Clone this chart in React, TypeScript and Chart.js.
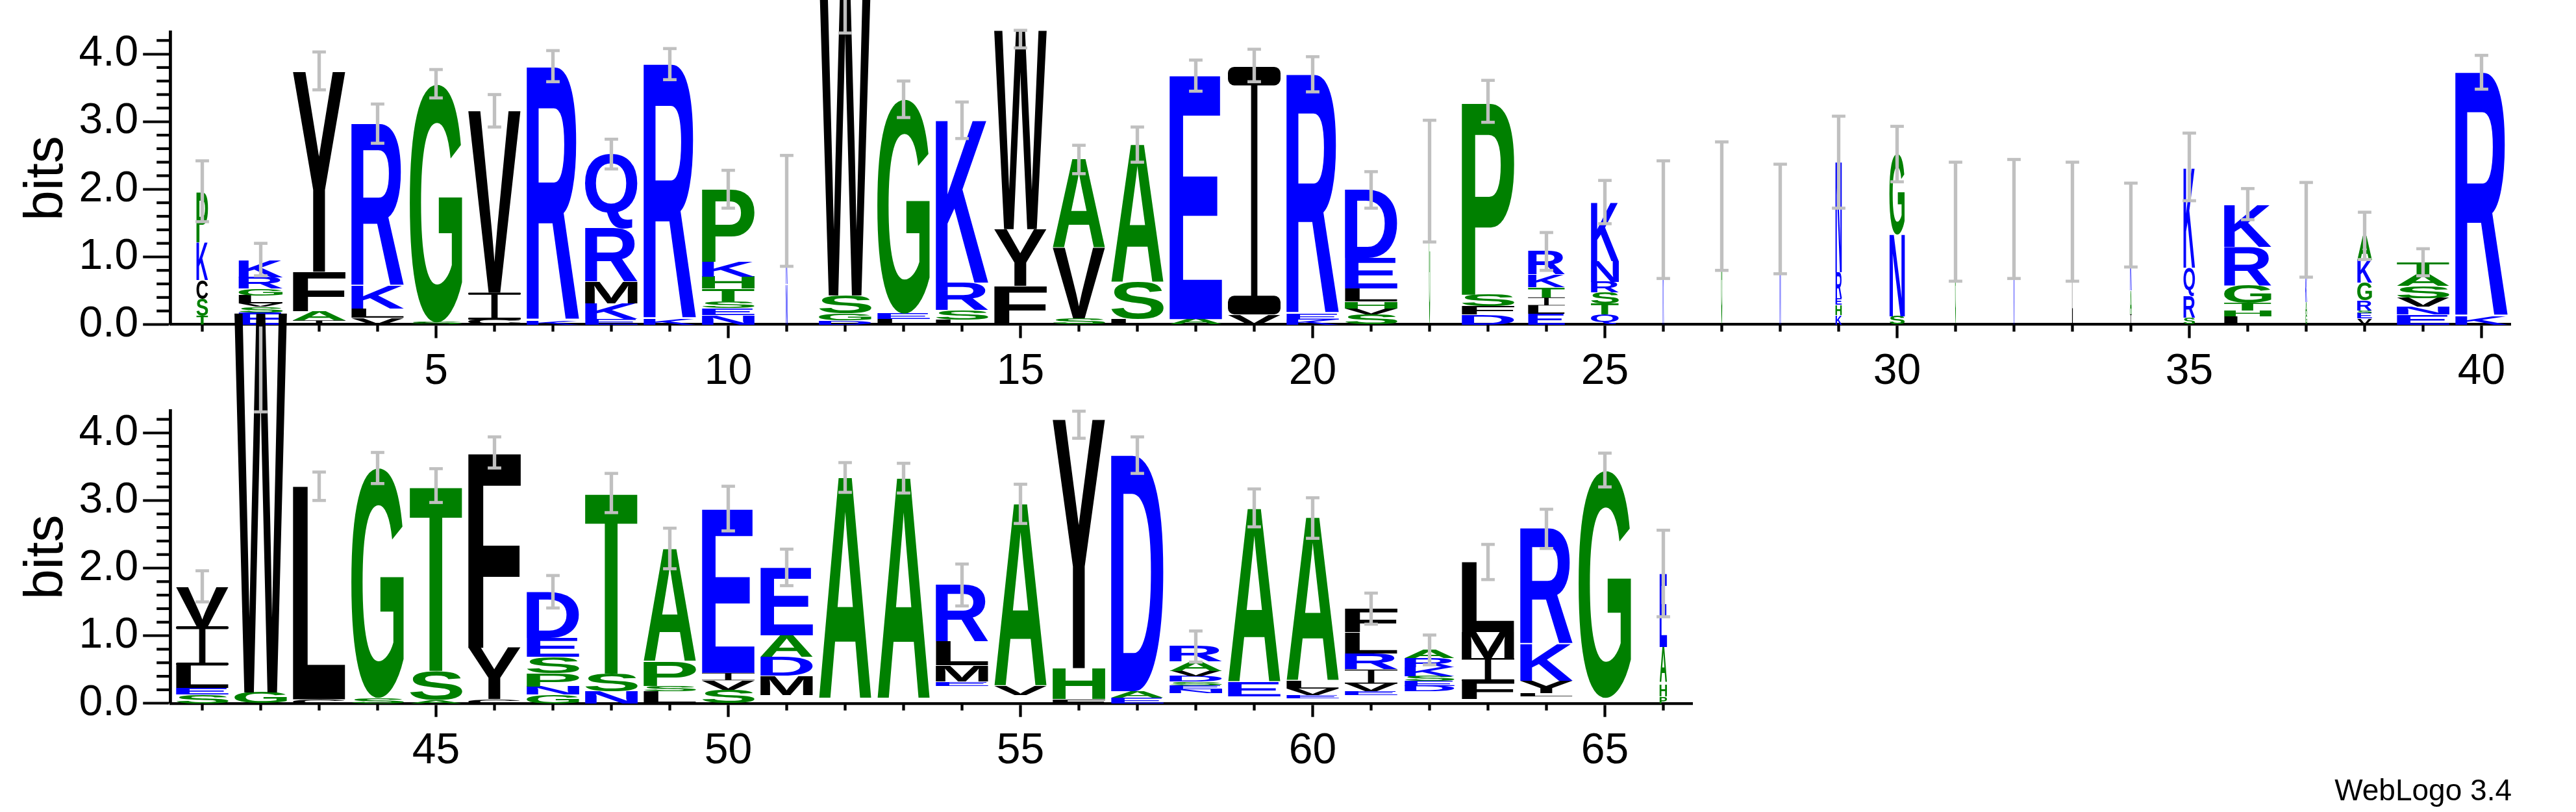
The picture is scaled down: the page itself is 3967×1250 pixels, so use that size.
import React, { useEffect, useRef } from "react";
import { Chart, registerables } from "chart.js";

Chart.register(...registerables);

type Letter = [string, number];

// ---------------- DATA ----------------
const axisTitle = "bits";
const creditText = "WebLogo 3.4";
const yTickValues = [0, 1, 2, 3, 4];
const yMinorStep = 0.2;
const xLabelEvery = 5;
const maxBits = 4.3219;

const topPositions = [1, 2, 3, 4, 5, 6, 7, 8, 9, 10, 11, 12, 13, 14, 15, 16, 17, 18, 19, 20, 21, 22, 23, 24, 25, 26, 27, 28, 29, 30, 31, 32, 33, 34, 35, 36, 37, 38, 39, 40];
// fraction of the full stack width (columns with many gaps are narrow)
const topWidths = [0.22, 0.84, 1, 1, 1, 1, 1, 1, 1, 1, 0.03, 1, 1, 1, 1, 1, 1, 1, 1, 1, 1, 0.02, 1, 0.7, 0.53, 0.02, 0.02, 0.02, 0.12, 0.29, 0.015, 0.015, 0.015, 0.03, 0.22, 0.9, 0.03, 0.28, 1, 1];
// letters from bottom to top with their heights in bits
const topStacks: Letter[][] = [
  [["T", 0.13], ["S", 0.25], ["C", 0.28], ["K", 0.56], ["P", 0.74]],
  [["E", 0.18], ["S", 0.08], ["V", 0.05], ["L", 0.12], ["G", 0.1], ["R", 0.17], ["K", 0.25]],
  [["I", 0.06], ["A", 0.14], ["F", 0.58], ["Y", 2.96]],
  [["V", 0.1], ["L", 0.14], ["K", 0.33], ["R", 2.4]],
  [["S", 0.03], ["G", 3.52]],
  [["C", 0.07], ["I", 0.4], ["V", 2.69]],
  [["K", 0.06], ["R", 3.75]],
  [["E", 0.08], ["K", 0.23], ["M", 0.32], ["R", 0.79], ["Q", 1.1]],
  [["K", 0.08], ["R", 3.77]],
  [["N", 0.14], ["E", 0.1], ["S", 0.1], ["T", 0.19], ["H", 0.18], ["K", 0.22], ["P", 1.08]],
  [["N", 0.6], ["K", 1.07]],
  [["D", 0.06], ["G", 0.1], ["S", 0.27], ["W", 4.9]],
  [["L", 0.08], ["E", 0.08], ["G", 3.17]],
  [["L", 0.07], ["S", 0.14], ["R", 0.41], ["K", 2.41]],
  [["F", 0.57], ["Y", 0.84], ["W", 2.94]],
  [["S", 0.09], ["V", 1.04], ["A", 1.31]],
  [["L", 0.08], ["S", 0.54], ["A", 2.04]],
  [["A", 0.08], ["E", 3.6]],
  [["V", 0.15], ["I", 3.66]],
  [["K", 0.07], ["E", 0.09], ["R", 3.54]],
  [["S", 0.15], ["V", 0.09], ["H", 0.1], ["L", 0.19], ["E", 0.45], ["D", 1.01]],
  [["G", 2.06]],
  [["D", 0.15], ["F", 0.12], ["S", 0.17], ["P", 2.85]],
  [["E", 0.16], ["L", 0.12], ["I", 0.12], ["T", 0.15], ["K", 0.19], ["R", 0.34]],
  [["Q", 0.15], ["T", 0.16], ["S", 0.16], ["R", 0.16], ["N", 0.31], ["K", 0.87]],
  [["K", 1.52]],
  [["G", 1.73]],
  [["N", 1.53]],
  [["K", 0.14], ["H", 0.15], ["E", 0.1], ["R", 0.38], ["N", 1.63]],
  [["S", 0.12], ["N", 1.21], ["G", 1.19]],
  [["G", 1.51]],
  [["N", 1.56]],
  [["L", 1.51]],
  [["I", 0.15], ["A", 0.35], ["K", 0.97]],
  [["S", 0.1], ["R", 0.32], ["Q", 0.42], ["K", 1.48]],
  [["L", 0.12], ["H", 0.09], ["T", 0.11], ["G", 0.26], ["R", 0.57], ["K", 0.62]],
  [["G", 0.15], ["A", 0.18], ["K", 0.37], ["I", 0.22], ["R", 0.48]],
  [["V", 0.09], ["E", 0.08], ["S", 0.04], ["R", 0.15], ["G", 0.26], ["K", 0.33], ["A", 0.36]],
  [["E", 0.15], ["N", 0.11], ["V", 0.13], ["S", 0.18], ["A", 0.17], ["T", 0.17]],
  [["K", 0.12], ["R", 3.61]],
];
const topErrCenter = [1.97, 0.96, 3.75, 2.97, 3.56, 3.16, 3.82, 2.52, 3.85, 2.0, 1.68, 4.66, 3.33, 3.02, 4.22, 2.44, 2.66, 3.68, 3.83, 3.7, 1.99, 2.12, 3.3, 1.08, 1.81, 1.55, 1.75, 1.56, 2.4, 2.52, 1.52, 1.56, 1.52, 1.47, 2.33, 1.78, 1.4, 1.31, 0.92, 3.73];
const topErrHalf = [0.45, 0.24, 0.28, 0.29, 0.21, 0.24, 0.23, 0.22, 0.23, 0.28, 0.82, 0.35, 0.27, 0.27, 0.13, 0.21, 0.26, 0.23, 0.24, 0.26, 0.27, 0.9, 0.31, 0.28, 0.32, 0.87, 0.95, 0.81, 0.68, 0.41, 0.88, 0.88, 0.88, 0.62, 0.5, 0.23, 0.7, 0.35, 0.2, 0.25];

const bottomPositions = [41, 42, 43, 44, 45, 46, 47, 48, 49, 50, 51, 52, 53, 54, 55, 56, 57, 58, 59, 60, 61, 62, 63, 64, 65, 66];
const bottomWidths = [1, 1, 1, 1, 1, 1, 1, 1, 1, 1, 1, 1, 1, 1, 1, 1, 1, 1, 1, 1, 1, 0.95, 1, 1, 1, 0.14];
const bottomStacks: Letter[][] = [
  [["S", 0.13], ["E", 0.1], ["L", 0.33], ["I", 0.58], ["V", 0.58]],
  [["G", 0.16], ["W", 5.62]],
  [["C", 0.06], ["L", 3.15]],
  [["S", 0.08], ["G", 3.4]],
  [["A", 0.05], ["S", 0.43], ["T", 2.73]],
  [["C", 0.06], ["Y", 0.76], ["F", 2.89]],
  [["G", 0.13], ["N", 0.12], ["P", 0.2], ["S", 0.24], ["E", 0.28], ["D", 0.68]],
  [["N", 0.18], ["S", 0.26], ["T", 2.67]],
  [["L", 0.18], ["S", 0.08], ["P", 0.36], ["A", 1.66]],
  [["S", 0.2], ["V", 0.14], ["I", 0.11], ["E", 2.42]],
  [[" ", 0.12], ["M", 0.29], ["D", 0.28], ["A", 0.32], ["E", 0.99]],
  [[" ", 0.06], ["A", 3.28]],
  [[" ", 0.06], ["A", 3.27]],
  [[" ", 0.26], ["E", 0.06], ["M", 0.24], ["L", 0.35], ["R", 0.84]],
  [[" ", 0.12], ["V", 0.13], ["A", 2.7]],
  [["F", 0.06], ["H", 0.46], ["Y", 3.68]],
  [["E", 0.08], ["A", 0.1], ["D", 3.49]],
  [[" ", 0.15], ["N", 0.06], ["E", 0.06], ["S", 0.05], ["D", 0.08], ["V", 0.08], ["A", 0.14], ["R", 0.23]],
  [[" ", 0.1], ["E", 0.21], ["A", 2.57]],
  [[" ", 0.07], ["E", 0.05], ["V", 0.1], ["L", 0.11], ["A", 2.42]],
  [[" ", 0.12], ["E", 0.06], ["V", 0.11], ["I", 0.21], ["R", 0.24], ["L", 0.31], ["F", 0.35]],
  [[" ", 0.18], ["D", 0.08], ["E", 0.07], ["S", 0.07], ["K", 0.13], ["R", 0.14], ["A", 0.12]],
  [[" ", 0.06], ["F", 0.27], ["I", 0.34], ["M", 0.38], ["L", 1.03]],
  [[" ", 0.1], ["L", 0.05], ["Y", 0.18], ["K", 0.55], ["R", 1.71]],
  [[" ", 0.08], ["G", 3.36]],
  [["P", 0.1], ["H", 0.17], [" ", 0.04], ["A", 0.52], ["E", 1.08]],
];
const bottomErrCenter = [1.73, 4.94, 3.21, 3.48, 3.22, 3.71, 1.65, 3.11, 2.29, 2.88, 2.01, 3.34, 3.33, 1.75, 2.95, 4.12, 3.67, 0.84, 2.89, 2.74, 1.4, 0.79, 2.09, 2.58, 3.45, 1.92];
const bottomErrHalf = [0.23, 0.63, 0.21, 0.23, 0.25, 0.23, 0.24, 0.29, 0.3, 0.33, 0.27, 0.22, 0.22, 0.31, 0.29, 0.2, 0.27, 0.23, 0.28, 0.3, 0.23, 0.22, 0.26, 0.29, 0.25, 0.64];

// hydrophobicity colour scheme
const blueLetters = "RKDENQ";
const greenLetters = "SGHTAP";

// ---------------- STYLE / LAYOUT ----------------
const W = 3967;
const H = 1250;
const FAMILY = '"Liberation Sans", Arial, Helvetica, sans-serif';
const GLYPH_FONT = 'bold 200px "Liberation Sans", Arial, Helvetica, sans-serif';
const BLUE = "#0000ff";
const GREEN = "#008000";
const BLACK = "#000000";
const GRAY = "#c0c0c0";
const AXIS_LEFT = 262.7;
const LETTER_FRAC = 0.9;
const X_AXIS_H = 120;

function letterColor(ch: string) {
  if (blueLetters.includes(ch)) return BLUE;
  if (greenLetters.includes(ch)) return GREEN;
  return BLACK;
}

const glyphCache: Record<string, { l: number; r: number; a: number; d: number }> = {};
function glyphBox(ctx: CanvasRenderingContext2D, ch: string) {
  if (!glyphCache[ch]) {
    ctx.save();
    ctx.font = GLYPH_FONT;
    const m = ctx.measureText(ch);
    glyphCache[ch] = {
      l: m.actualBoundingBoxLeft,
      r: m.actualBoundingBoxRight,
      a: m.actualBoundingBoxAscent,
      d: m.actualBoundingBoxDescent,
    };
    ctx.restore();
  }
  return glyphCache[ch];
}

function roundedBar(ctx: CanvasRenderingContext2D, x: number, y: number, w: number, h: number) {
  const r = Math.min(h * 0.45, w * 0.12);
  ctx.beginPath();
  if (r > 0.8 && (ctx as any).roundRect) {
    (ctx as any).roundRect(x, y, w, h, r);
  } else {
    ctx.rect(x, y, w, h);
  }
  ctx.fill();
}

function drawGlyph(ctx: CanvasRenderingContext2D, ch: string, x0: number, yt: number, x1: number, yb: number) {
  const w = x1 - x0;
  const h = yb - yt;
  if (w <= 0 || h <= 0 || ch.trim() === "") return;
  ctx.save();
  ctx.fillStyle = letterColor(ch);
  if (ch === "I") {
    const bar = Math.max(h * 0.075, 0.8);
    const stem = Math.max(w * 0.12, 0.6);
    ctx.fillRect(x0 + (w - stem) / 2, yt + bar * 0.5, stem, h - bar);
    roundedBar(ctx, x0, yt, w, bar);
    roundedBar(ctx, x0, yb - bar, w, bar);
    ctx.restore();
    return;
  }
  const g = glyphBox(ctx, ch);
  ctx.translate(x0, yt);
  ctx.scale(w / (g.l + g.r), h / (g.a + g.d));
  ctx.font = GLYPH_FONT;
  ctx.textAlign = "left";
  ctx.textBaseline = "alphabetic";
  ctx.fillText(ch, g.l, g.a);
  ctx.restore();
}

type PanelCfg = {
  id: string;
  positions: number[];
  widths: number[];
  stacks: Letter[][];
  errCenter: number[];
  errHalf: number[];
  areaTop: number;
  areaBottom: number;
  areaRight: number;
  credit?: boolean;
};

const topCfg: PanelCfg = {
  id: "top",
  positions: topPositions,
  widths: topWidths,
  stacks: topStacks,
  errCenter: topErrCenter,
  errHalf: topErrHalf,
  areaTop: 49.6,
  areaBottom: 499.5,
  areaRight: 3866.5,
};

const bottomCfg: PanelCfg = {
  id: "bottom",
  positions: bottomPositions,
  widths: bottomWidths,
  stacks: bottomStacks,
  errCenter: bottomErrCenter,
  errHalf: bottomErrHalf,
  areaTop: 632.8,
  areaBottom: 1082.7,
  areaRight: 2606.5,
  credit: true,
};

function makeConfig(cfg: PanelCfg): any {
  const { positions, widths, stacks, errCenter, errHalf } = cfg;
  const first = positions[0];
  const last = positions[positions.length - 1];
  const xMax = last + 0.5;
  const pxPerUnit = 90;
  const xMin = first - 0.5 - (cfg.areaRight - AXIS_LEFT - (xMax - (first - 0.5)) * pxPerUnit) / pxPerUnit;

  const lettersPlugin = {
    id: "letters-" + cfg.id,
    beforeDatasetsDraw(chart: any) {
      const ctx: CanvasRenderingContext2D = chart.ctx;
      const xs = chart.scales.x;
      const ys = chart.scales.y;
      positions.forEach((p, i) => {
        const hw = (LETTER_FRAC / 2) * widths[i];
        const x0 = xs.getPixelForValue(p - hw);
        const x1 = xs.getPixelForValue(p + hw);
        let cum = 0;
        stacks[i].forEach(([ch, h]) => {
          const yb = ys.getPixelForValue(cum);
          cum += h;
          const yt = ys.getPixelForValue(cum);
          drawGlyph(ctx, ch, x0, yt, x1, yb);
        });
      });
    },
    afterDraw(chart: any) {
      const ctx: CanvasRenderingContext2D = chart.ctx;
      const xs = chart.scales.x;
      const ys = chart.scales.y;
      const area = chart.chartArea;
      ctx.save();
      ctx.fillStyle = BLACK;
      // minor x ticks
      positions.forEach((p) => {
        if (p % xLabelEvery === 0) return;
        const x = xs.getPixelForValue(p);
        ctx.fillRect(x - 2.15, area.bottom, 4.3, 11);
      });
      // minor y ticks
      for (let k = 1; k * yMinorStep <= maxBits; k++) {
        const v = k * yMinorStep;
        if (Math.abs(v - Math.round(v)) < 1e-6) continue;
        const y = ys.getPixelForValue(v);
        ctx.fillRect(AXIS_LEFT - 21.5, y - 2.1, 21.5, 4.2);
      }
      if (cfg.credit) {
        ctx.font = "46px " + FAMILY;
        ctx.textAlign = "right";
        ctx.textBaseline = "alphabetic";
        ctx.fillText(creditText, 3868, 1232);
      }
      ctx.restore();
    },
  };

  return {
    type: "bar",
    data: {
      datasets: [
        {
          type: "bar",
          data: positions.map((p, i) => ({ x: p, y: [errCenter[i] - errHalf[i], errCenter[i] + errHalf[i]] })),
          backgroundColor: GRAY,
          borderWidth: 0,
          barThickness: 4.7,
          grouped: false,
          clip: false,
          order: 2,
        },
        {
          type: "scatter",
          data: positions.flatMap((p, i) => [
            { x: p, y: errCenter[i] + errHalf[i] },
            { x: p, y: errCenter[i] - errHalf[i] },
          ]),
          pointStyle: "line",
          pointRadius: 10.4,
          pointHoverRadius: 10.4,
          pointBorderWidth: 4.7,
          pointBorderColor: GRAY,
          pointBackgroundColor: GRAY,
          showLine: false,
          clip: false,
          order: 1,
        },
      ],
    },
    options: {
      responsive: false,
      animation: false,
      devicePixelRatio: 1,
      events: [],
      layout: {
        padding: {
          left: 0,
          top: cfg.areaTop,
          right: W - cfg.areaRight,
          bottom: H - cfg.areaBottom - X_AXIS_H,
        },
      },
      plugins: {
        legend: { display: false },
        tooltip: { enabled: false },
        title: { display: false },
      },
      scales: {
        x: {
          type: "linear",
          min: xMin,
          max: xMax,
          offset: false,
          afterBuildTicks: (s: any) => {
            s.ticks = positions.map((v) => ({ value: v }));
          },
          afterFit: (s: any) => {
            s.height = X_AXIS_H;
          },
          ticks: {
            autoSkip: false,
            maxRotation: 0,
            minRotation: 0,
            padding: 13,
            color: BLACK,
            font: { family: FAMILY, size: 66 },
            callback: (v: number) => (v % xLabelEvery === 0 ? String(v) : ""),
          },
          grid: {
            offset: false,
            drawOnChartArea: false,
            drawTicks: true,
            tickLength: 21,
            tickWidth: 4.3,
            tickColor: (c: any) => (c.tick && c.tick.value % xLabelEvery === 0 ? BLACK : "rgba(0,0,0,0)"),
          },
          border: { display: true, color: BLACK, width: 4.3 },
        },
        y: {
          type: "linear",
          min: 0,
          max: maxBits,
          afterBuildTicks: (s: any) => {
            s.ticks = yTickValues.map((v) => ({ value: v }));
          },
          afterFit: (s: any) => {
            s.width = AXIS_LEFT;
          },
          ticks: {
            padding: 7,
            color: BLACK,
            font: { family: FAMILY, size: 66 },
            callback: (v: number) => Number(v).toFixed(1),
          },
          grid: {
            drawOnChartArea: false,
            drawTicks: true,
            tickLength: 42.5,
            tickWidth: 4.2,
            tickColor: BLACK,
          },
          border: { display: true, color: BLACK, width: 4.8 },
          title: {
            display: true,
            text: axisTitle,
            color: BLACK,
            font: { family: FAMILY, size: 84 },
            padding: { top: 22, bottom: 0 },
          },
        },
      },
    },
    plugins: [lettersPlugin],
  };
}

function LogoPanel({ cfg }: { cfg: PanelCfg }) {
  const ref = useRef<HTMLCanvasElement>(null);
  useEffect(() => {
    if (!ref.current) return;
    const chart = new Chart(ref.current, makeConfig(cfg));
    return () => chart.destroy();
  }, [cfg]);
  return (
    <canvas
      ref={ref}
      width={W}
      height={H}
      style={{ position: "absolute", left: 0, top: 0, width: W, height: H }}
    />
  );
}

export default function App() {
  return (
    <div style={{ position: "absolute", left: 0, top: 0, width: W, height: H, background: "#ffffff", overflow: "hidden" }}>
      <LogoPanel cfg={topCfg} />
      <LogoPanel cfg={bottomCfg} />
    </div>
  );
}
